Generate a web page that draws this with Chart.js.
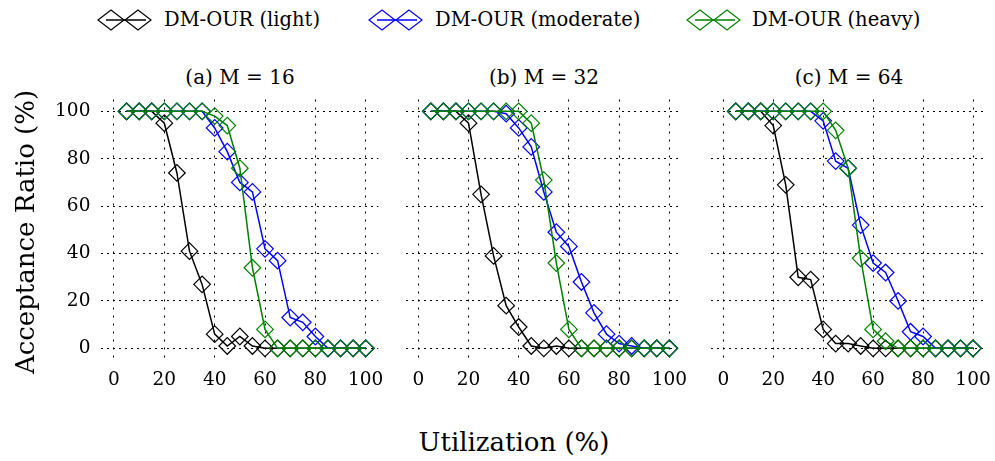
<!DOCTYPE html>
<html>
<head>
<meta charset="utf-8">
<script src="https://cdn.jsdelivr.net/npm/chart.js@4.4.1/dist/chart.umd.min.js"></script>
<style>
body { margin: 0; background: #fff; width: 995px; height: 461px; position: relative; overflow: hidden;
       font-family: "DejaVu Serif", serif; color: #000; }
canvas { position: absolute; }
.txt { position: absolute; white-space: nowrap; text-align: center; }
.key { left: 0; top: 5px; height: 30px; line-height: 30px; font-size: 19.5px; text-align: left; }
.sub { top: 62px; width: 200px; height: 30px; line-height: 30px; font-size: 20px; }
.axt { width: 300px; height: 40px; line-height: 40px; font-size: 26px; }
</style>
</head>
<body>

<canvas id="keyLight" width="58" height="26" style="left:96px;top:7px"></canvas>
<div class="txt key" style="left:164px">DM-OUR (light)</div>
<canvas id="keyModerate" width="58" height="26" style="left:367px;top:7px"></canvas>
<div class="txt key" style="left:435px">DM-OUR (moderate)</div>
<canvas id="keyHeavy" width="58" height="26" style="left:685px;top:7px"></canvas>
<div class="txt key" style="left:752px">DM-OUR (heavy)</div>

<div class="txt sub" style="left:140px">(a) M = 16</div>
<div class="txt sub" style="left:444px">(b) M = 32</div>
<div class="txt sub" style="left:749px">(c) M = 64</div>

<canvas id="panelA" width="390" height="320" style="left:0px;top:90px"></canvas>
<canvas id="panelB" width="300" height="320" style="left:395px;top:90px"></canvas>
<canvas id="panelC" width="295" height="320" style="left:700px;top:90px"></canvas>

<div class="txt axt" style="left:-125px;top:212px;transform:rotate(-90deg)">Acceptance Ratio (%)</div>
<div class="txt axt" style="left:364px;top:422px">Utilization (%)</div>

<script>
var utilization = [5, 10, 15, 20, 25, 30, 35, 40, 45, 50, 55, 60, 65, 70, 75, 80, 85, 90, 95, 100];
var xTicks = [0, 20, 40, 60, 80, 100];
var yTicks = [0, 20, 40, 60, 80, 100];

// M = 16
var lightA    = [100, 100, 100, 95, 74, 41, 27, 6, 1, 5, 1, 0, 0, 0, 0, 0, 0, 0, 0, 0];
var moderateA = [100, 100, 100, 100, 100, 100, 100, 93, 83, 70, 66, 42, 37, 13, 11, 5, 0, 0, 0, 0];
var heavyA    = [100, 100, 100, 100, 100, 100, 100, 98, 94, 76, 34, 8, 0, 0, 0, 0, 0, 0, 0, 0];

// M = 32
var lightB    = [100, 100, 100, 95, 65, 39, 18, 9, 1, 0, 1, 0, 0, 0, 0, 0, 0, 0, 0, 0];
var moderateB = [100, 100, 100, 100, 100, 100, 99, 93, 85, 66, 49, 43, 28, 15, 6, 2, 1, 0, 0, 0];
var heavyB    = [100, 100, 100, 100, 100, 100, 100, 100, 95, 71, 36, 8, 0, 0, 0, 0, 0, 0, 0, 0];

// M = 64
var lightC    = [100, 100, 100, 94, 69, 30, 29, 8, 2, 2, 1, 0, 0, 0, 0, 0, 0, 0, 0, 0];
var moderateC = [100, 100, 100, 100, 100, 100, 100, 96, 79, 76, 52, 36, 32, 20, 7, 5, 0, 0, 0, 0];
var heavyC    = [100, 100, 100, 100, 100, 100, 100, 100, 92, 76, 38, 8, 3, 0, 0, 0, 0, 0, 0, 0];

var seriesNames = ['DM-OUR (light)', 'DM-OUR (moderate)', 'DM-OUR (heavy)'];
var seriesColors = ['#000000', '#0000ff', '#008000'];

var tickFont = { family: 'DejaVu Serif', size: 18.5 };

function series(i, values) {
    return {
        label: seriesNames[i],
        data: utilization.map(function (u, k) { return { x: u, y: values[k] }; }),
        borderColor: seriesColors[i],
        backgroundColor: 'rgba(0,0,0,0)',
        borderWidth: 1.5,
        pointStyle: 'rectRot',
        pointRadius: 8.3,
        pointBorderWidth: 1.2,
        pointBorderColor: seriesColors[i],
        pointBackgroundColor: 'rgba(0,0,0,0)',
        tension: 0,
        order: 3 - i,   // heavy drawn last, on top
        clip: false
    };
}

function noPad(s) {
    s.paddingLeft = 0; s.paddingRight = 0; s.paddingTop = 0; s.paddingBottom = 0;
}

// box: chart area inside the canvas (left, right, top, bottom)
function drawPanel(id, box, light, moderate, heavy, showY) {
    var cv = document.getElementById(id);
    new Chart(cv, {
        type: 'line',
        data: {
            datasets: [series(0, light), series(1, moderate), series(2, heavy)]
        },
        options: {
            responsive: false,
            animation: false,
            devicePixelRatio: 1,
            layout: { padding: { left: 0, right: cv.width - box.right, top: box.top, bottom: 0 } },
            plugins: { legend: { display: false }, tooltip: { enabled: false } },
            scales: {
                x: {
                    type: 'linear',
                    min: -5,
                    max: 105,
                    afterBuildTicks: function (s) { s.ticks = xTicks.map(function (v) { return { value: v }; }); },
                    afterFit: function (s) { s.height = cv.height - box.bottom; noPad(s); },
                    grid: { color: '#000', lineWidth: 1, drawTicks: false },
                    border: { display: false, dash: [2, 6] },
                    ticks: { padding: 9, font: tickFont, color: '#000', maxRotation: 0, autoSkip: false }
                },
                y: {
                    type: 'linear',
                    min: -5,
                    max: 105,
                    afterBuildTicks: function (s) { s.ticks = yTicks.map(function (v) { return { value: v }; }); },
                    afterFit: function (s) { s.width = box.left; noPad(s); },
                    grid: { color: '#000', lineWidth: 1, drawTicks: false },
                    border: { display: false, dash: [2, 4] },
                    ticks: { display: showY, padding: 11, font: tickFont, color: '#000', autoSkip: false }
                }
            }
        }
    });
}

drawPanel('panelA', { left: 101.4, right: 378.3, top: 8.8, bottom: 270.2 }, lightA, moderateA, heavyA, true);
drawPanel('panelB', { left: 10.75, right: 286.85, top: 8.8, bottom: 270.2 }, lightB, moderateB, heavyB, false);
drawPanel('panelC', { left: 10.8, right: 286.5, top: 8.8, bottom: 270.2 }, lightC, moderateC, heavyC, false);

// legend keys: line with two diamonds
function drawKey(id, color) {
    var ctx = document.getElementById(id).getContext('2d');
    ctx.strokeStyle = color;
    ctx.lineWidth = 1.5;
    ctx.beginPath();
    ctx.moveTo(10, 13);
    ctx.lineTo(50, 13);
    ctx.stroke();
    ctx.lineWidth = 1.2;
    [15, 42].forEach(function (cx) {
        ctx.beginPath();
        ctx.moveTo(cx - 13, 13);
        ctx.lineTo(cx, 3);
        ctx.lineTo(cx + 13, 13);
        ctx.lineTo(cx, 23);
        ctx.closePath();
        ctx.stroke();
    });
}
drawKey('keyLight', seriesColors[0]);
drawKey('keyModerate', seriesColors[1]);
drawKey('keyHeavy', seriesColors[2]);
</script>
</body>
</html>
